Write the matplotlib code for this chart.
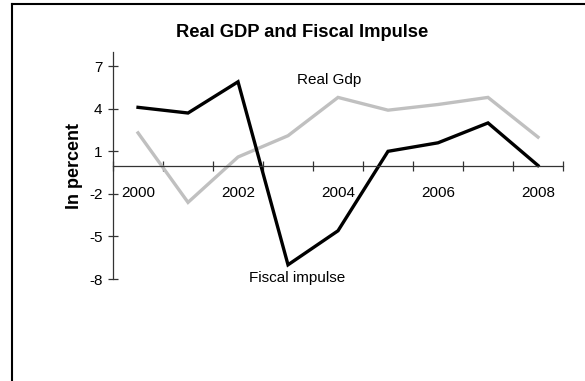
import matplotlib
matplotlib.use("Agg")
import matplotlib.pyplot as plt
from matplotlib.lines import Line2D

years = [2000, 2001, 2002, 2003, 2004, 2005, 2006, 2007, 2008]
real_gdp = [2.3, -2.6, 0.6, 2.1, 4.8, 3.9, 4.3, 4.8, 2.0]
fiscal_impulse = [4.1, 3.7, 5.9, -7.0, -4.6, 1.0, 1.6, 3.0, 0.0]
y_ticks = [7, 4, 1, -2, -5, -8]
year_labels = ["2000", "2002", "2004", "2006", "2008"]

FONT = ["Liberation Sans Narrow", "Liberation Sans", "DejaVu Sans"]
plt.rcParams["font.family"] = FONT

fig = plt.figure(figsize=(5.85, 3.81), dpi=100)
ax = fig.add_axes([0.1932, 0.2677, 0.7692, 0.5958])

x = list(range(len(years)))
ax.plot(x, real_gdp, color="#c0c0c0", lw=2.4, solid_joinstyle="miter")
ax.plot(x, fiscal_impulse, color="black", lw=2.4, solid_joinstyle="miter")

ax.set_xlim(-0.5, len(years) - 0.5)
ax.set_ylim(-8, 8)

for side in ("top", "right"):
    ax.spines[side].set_visible(False)
ax.spines["bottom"].set_position(("data", 0))
for side in ("left", "bottom"):
    ax.spines[side].set_color("#333333")
    ax.spines[side].set_linewidth(0.9)

# category boundaries get the tick marks, every other year gets a label
ax.set_xticks([i - 0.5 for i in range(len(years) + 1)])
ax.set_xticklabels([])
ax.set_xticks([years.index(int(y)) for y in year_labels], minor=True)
ax.set_xticklabels(year_labels, minor=True)
ax.tick_params(axis="x", which="major", direction="inout", length=7,
               width=0.9, color="#333333")
ax.tick_params(axis="x", which="minor", length=0, pad=15, labelsize=11)

ax.set_yticks(y_ticks)
ax.set_yticklabels([str(v) for v in y_ticks])
ax.tick_params(axis="y", direction="inout", length=7, width=0.9,
               color="#333333", pad=4, labelsize=11)

ax.text(3.83, 6.0, "Real Gdp", ha="center", va="center", fontsize=11)
ax.text(3.19, -7.9, "Fiscal impulse", ha="center", va="center", fontsize=11)

fig.text(0.516, 0.916, "Real GDP and Fiscal Impulse", ha="center",
         va="center", fontsize=13.2, fontweight="bold")
fig.text(0.128, 0.564, "In percent", ha="center", va="center",
         rotation=90, fontsize=13, fontweight="bold")

# frame drawn only along the top and left edges
fig.add_artist(Line2D([12 / 585, 1], [1 - 4 / 381, 1 - 4 / 381],
                      transform=fig.transFigure, color="black", lw=1.5))
fig.add_artist(Line2D([12 / 585, 12 / 585], [1 - 4 / 381, 0],
                      transform=fig.transFigure, color="black", lw=1.5))

fig.savefig("out.png", dpi=100)
